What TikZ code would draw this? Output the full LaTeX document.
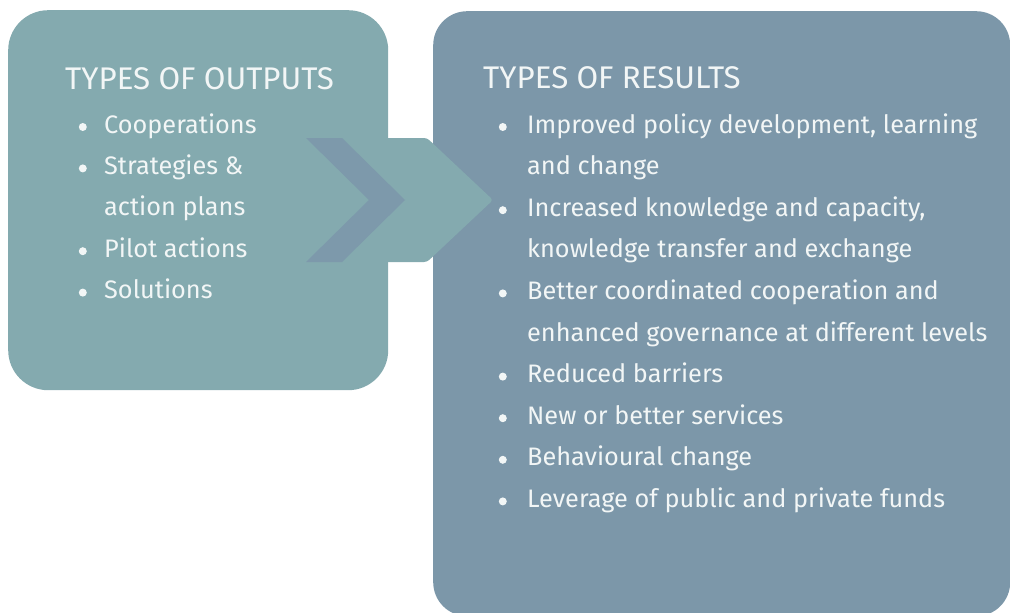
\documentclass[tikz,border=0pt]{standalone}
\usepackage{fontspec}
\setmainfont{Fira Sans}
\usetikzlibrary{positioning}
\definecolor{outteal}{RGB}{132,170,175}
\definecolor{resslate}{RGB}{124,151,169}
\definecolor{chevslate}{RGB}{125,153,171}
\definecolor{paletext}{RGB}{242,246,246}

\begin{document}
\begin{tikzpicture}[x=1pt,y=-1pt,
  panel/.style={rectangle,inner sep=0pt,anchor=north west},
  heading/.style={anchor=base west,inner sep=0pt,text=paletext,
    font=\fontsize{31.3}{34}\selectfont},
  entry/.style={anchor=base west,inner sep=0pt,text height=17pt,text depth=5pt,
    text=paletext,font=\fontsize{25.3}{28}\selectfont},
  dot/.style={circle,fill=paletext,minimum size=8pt,inner sep=0pt},
]
\useasboundingbox (0,0) rectangle (1010,613);

% Panels
\node[panel,rounded corners=34pt,fill=resslate,minimum width=577pt,minimum height=605pt] (results) at (433,11) {};
\node[panel,rounded corners=40pt,fill=outteal,minimum width=380pt,minimum height=380pt] (outputs) at (8,10) {};

% Arrow with chevron
\fill[outteal,rounded corners=3pt] (300,138) -- (427,138) -- (493,200) -- (427,262) -- (300,262) -- cycle;
\fill[chevslate] (306,138) -- (342,138) -- (405,200) -- (342,262) -- (306,262) -- (369,200) -- cycle;

% Outputs
\node[heading] (outtitle) at (65,89) {TYPES OF OUTPUTS};
\node[entry] (o1) at (104,133) {Cooperations};
\node[entry,below=19pt of o1.south west,anchor=north west] (o2) {Strategies \&};
\node[entry,below=19pt of o2.south west,anchor=north west] (o3) {action plans};
\node[entry,below=19pt of o3.south west,anchor=north west] (o4) {Pilot actions};
\node[entry,below=19pt of o4.south west,anchor=north west] (o5) {Solutions};
\foreach \n in {o1,o2,o4,o5}
  \node[dot,left=17pt of \n.west] (dot-\n) {};

% Results
\node[heading] (restitle) at (483,88) {TYPES OF RESULTS};
\node[entry] (r1) at (527,133) {Improved policy development, learning};
\node[entry,below=19.2pt of r1.south west,anchor=north west] (r2) {and change};
\node[entry,below=19.2pt of r2.south west,anchor=north west] (r3) {Increased knowledge and capacity,};
\node[entry,below=19.2pt of r3.south west,anchor=north west] (r4) {knowledge transfer and exchange};
\node[entry,below=19.2pt of r4.south west,anchor=north west] (r5) {Better coordinated cooperation and};
\node[entry,below=19.2pt of r5.south west,anchor=north west] (r6) {enhanced governance at different levels};
\node[entry,below=19.2pt of r6.south west,anchor=north west] (r7) {Reduced barriers};
\node[entry,below=19.2pt of r7.south west,anchor=north west] (r8) {New or better services};
\node[entry,below=19.2pt of r8.south west,anchor=north west] (r9) {Behavioural change};
\node[entry,below=19.2pt of r9.south west,anchor=north west] (r10) {Leverage of public and private funds};
\foreach \n in {r1,r3,r5,r7,r8,r9,r10}
  \node[dot,left=20pt of \n.west] (dot-\n) {};

\end{tikzpicture}
\end{document}
